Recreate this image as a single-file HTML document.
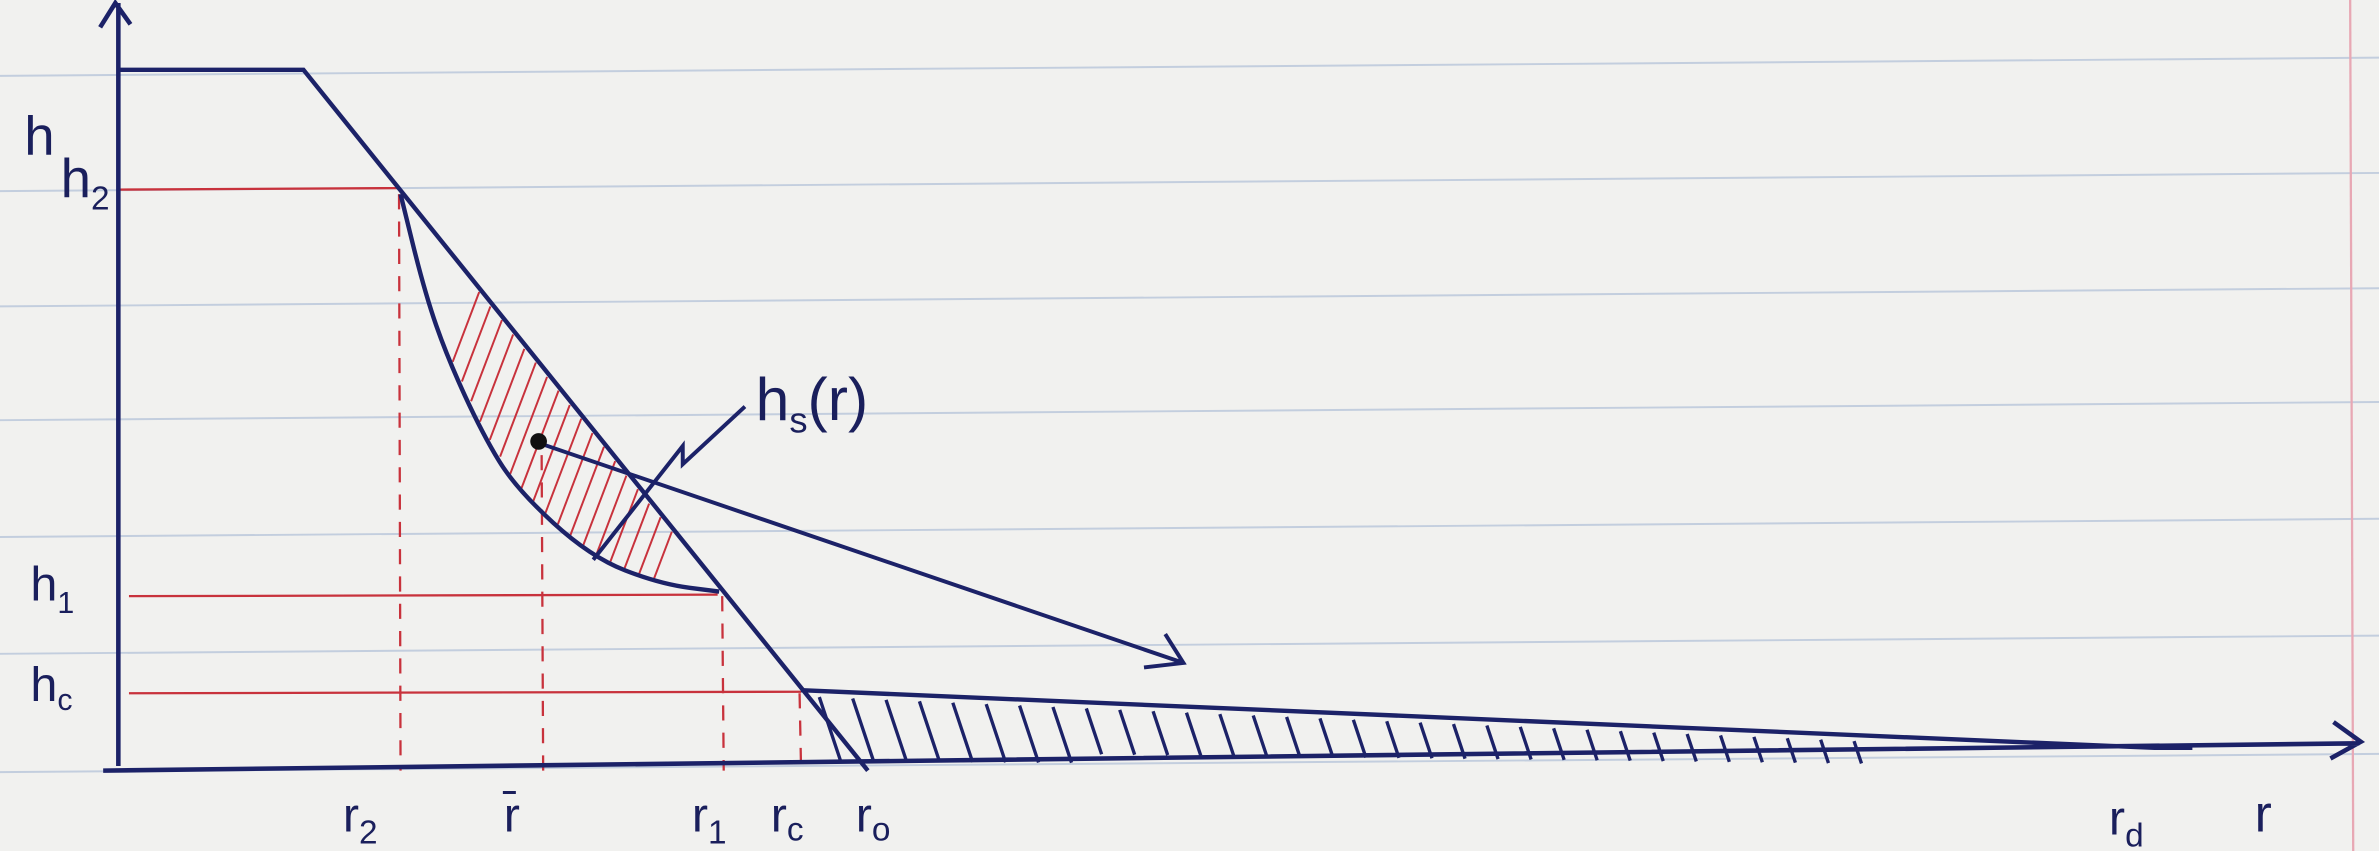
<!DOCTYPE html>
<html><head><meta charset="utf-8">
<style>
html,body{margin:0;padding:0;background:#f1f1ef;}
svg{display:block;}
text{font-family:"Liberation Sans",sans-serif;fill:#1a1f5c;}
</style></head>
<body>
<svg id="chart" width="2379" height="851" viewBox="0 0 1568 561" preserveAspectRatio="none" xmlns="http://www.w3.org/2000/svg">
<rect width="1568" height="561" fill="#f1f1ef"/>
<g id="paper"></g>
<line x1="1549" y1="0" x2="1551" y2="561" stroke="#e8a8b4" stroke-width="1.5"/>
<g id="marks"></g>
<g id="labels" font-size="36">
<text x="16" y="102">h</text>
<text x="40" y="130">h<tspan font-size="22" dy="8">2</tspan></text>
<text x="20" y="396" font-size="32">h<tspan font-size="20" dy="8">1</tspan></text>
<text x="20" y="462" font-size="32">h<tspan font-size="20" dy="6">c</tspan></text>
<text x="226" y="548" font-size="32">r<tspan font-size="22" dy="8">2</tspan></text>
<text x="332" y="548" font-size="32">r̄</text>
<text x="456" y="548" font-size="32">r<tspan font-size="22" dy="8">1</tspan></text>
<text x="508" y="548" font-size="32">r<tspan font-size="22" dy="6">c</tspan></text>
<text x="564" y="548" font-size="32">r<tspan font-size="22" dy="6">o</tspan></text>
<text x="1390" y="550" font-size="32">r<tspan font-size="22" dy="8">d</tspan></text>
<text x="1486" y="548" font-size="34">r</text>
<text x="498" y="277" font-size="40">h<tspan font-size="24" dy="8">s</tspan><tspan dy="-8">(r)</tspan></text>
</g>
</svg>
<script>
const ruledLinesY = [46, 122, 198, 273, 350, 427, 505];
const axisOrigin = [78, 508];
const plateau = [[78, 46], [200, 46]];
const slopeEnd = [572, 508];
const levelsY = [125, 393, 457];
const levelsEndX = [262, 473, 528];
const dashedX = [263, 357, 476, 527];
const dashedTopY = [128, 300, 393, 457];
const curvePts = [[264,128],[280,193],[295,236],[318,286],[340,322],[389,367],[435,385],[474,390]];
const tailPts = [[528,455],[1420,493]];
const NS = 'http://www.w3.org/2000/svg';
const paper = document.getElementById('paper');
const marks = document.getElementById('marks');
function mk(parent, tag, attrs){ const e=document.createElementNS(NS,tag); for(const k in attrs) e.setAttribute(k,attrs[k]); parent.appendChild(e); return e; }
ruledLinesY.forEach(y=>{
  const l=mk(paper,'line',{x1:0,y1:y+4,x2:1568,y2:y-8,stroke:'#c3cede','stroke-width':1.3});
  
  
});
const blue='#1c2268', red='#c8323c';
function curveX(y){for(let i=0;i<curvePts.length-1;i++){const a=curvePts[i],b=curvePts[i+1];if(y>=a[1]&&y<=b[1]){return a[0]+(b[0]-a[0])*(y-a[1])/(b[1]-a[1]);}}return null;}
function diagX(y){return plateau[1][0]+(slopeEnd[0]-plateau[1][0])*(y-plateau[1][1])/(slopeEnd[1]-plateau[1][1]);}
levelsY.forEach((y,i)=>{
  const l=mk(marks,'line',{x1:i==0?78:85,y1:y,x2:levelsEndX[i],y2:y-1,stroke:red,'stroke-width':1.5});
  
  
});
dashedX.forEach((x,i)=>{
  const l=mk(marks,'line',{x1:x,y1:dashedTopY[i],x2:x+1,y2:axisOrigin[1],stroke:red,'stroke-width':1.5,'stroke-dasharray':'10 8'});
  
  
});
// red hatching between curve (bottom-left) and diagonal (top-right)
const k=0.38;
for(let s=275;s<470;s+=11){
  // line: x = s + k*(y0 - y); find y where hits curve and diagonal
  let yb=null,yt=null;
  for(let y=130;y<392;y+=0.5){
    const x=s+k*(300-y);
    const cx=curveX(y), dx=diagX(y);
    if(cx===null) continue;
    if(x>=cx+2 && x<=dx-2){ if(yt===null) yt=y; yb=y; }
  }
  if(yt===null||yb-yt<6) continue;
  const h=mk(marks,'line',{x1:s+k*(300-yb),y1:yb,x2:s+k*(300-yt),y2:yt,stroke:red,'stroke-width':1.3});
  
  
}
// blue hatching in tail
for(let x=540;x<1240;x+=22){
  const yt=tailPts[0][1]+(tailPts[1][1]-tailPts[0][1])*(x-tailPts[0][0])/(tailPts[1][0]-tailPts[0][0]);
  const len=Math.max(4,(505-yt)*(x<700?0.95:0.8));
  const h=mk(marks,'line',{x1:x,y1:yt+4,x2:x+len*0.3,y2:yt+4+len*0.9,stroke:blue,'stroke-width':2.2});
  
  
}
let e=mk(marks,'path',{d:`M${axisOrigin[0]} 505 L78 2 M66 18 L76 2 L86 16`,stroke:blue,'stroke-width':3,fill:'none'});


e=mk(marks,'path',{d:`M68 508 L1555 490 M1538 476 L1556 489 L1536 500`,stroke:blue,'stroke-width':3,fill:'none'});


e=mk(marks,'path',{d:`M${plateau[0][0]} ${plateau[0][1]} L${plateau[1][0]} ${plateau[1][1]} L${slopeEnd[0]} ${slopeEnd[1]}`,stroke:blue,'stroke-width':2.9,fill:'none'});


let d='M'+curvePts[0].join(' ');
for(let i=1;i<curvePts.length;i++){ const p=curvePts[i-1],c=curvePts[i]; d+=` Q${p[0]} ${p[1]} ${(p[0]+c[0])/2} ${(p[1]+c[1])/2}`; }
d+=' L'+curvePts[curvePts.length-1].join(' ');
e=mk(marks,'path',{d:d,stroke:blue,'stroke-width':2.9,fill:'none'});


e=mk(marks,'path',{d:`M${tailPts[0][0]} ${tailPts[0][1]} L${tailPts[1][0]} ${tailPts[1][1]} L1445 493`,stroke:blue,'stroke-width':2.9,fill:'none'});


e=mk(marks,'path',{d:'M355 292 L780 437 M768 418 L780 437 L754 440',stroke:blue,'stroke-width':2.6,fill:'none'});


e=mk(marks,'circle',{cx:355,cy:291,r:5.5,fill:'#111'});


e=mk(marks,'path',{d:'M391 369 L450 294 L450 306 L491 268',stroke:blue,'stroke-width':2.6,fill:'none'});


</script>
</body></html>
